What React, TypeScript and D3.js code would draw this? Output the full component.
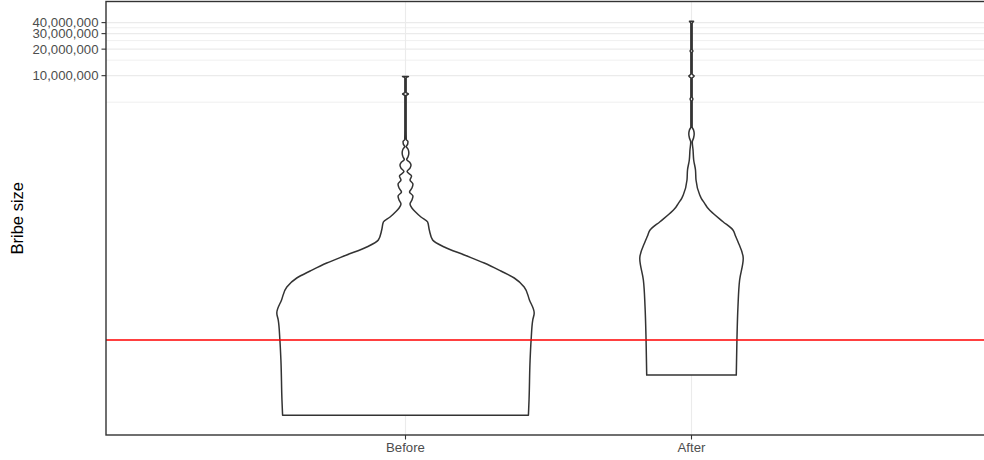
import React from 'react'
import * as d3 from 'd3'

// categories and axis breaks
const categories = ['Before', 'After']
const yBreaks = [10000000, 20000000, 30000000, 40000000]
const yMinorBreaks = [5000000, 15000000, 25000000, 35000000]
const referenceLine = 10000

// violin outlines: bribe size and relative density (1 = widest violin)
const beforeValues = [
  1400, 2100, 5900, 10000, 16900, 20300, 28500, 40000, 50600, 60700, 74800,
  92200, 113700, 136500, 177200, 218500, 248900, 283700, 314900, 349600,
  388000, 430900, 478300, 531100, 589300, 654300, 726400, 817300, 895400,
  968500, 1047000, 1118000, 1194000, 1325000, 1471000, 1570000, 1677000,
  1789000, 1886000, 2417000, 5292000, 5953000, 6190000, 6437000, 9402000,
  9777000,
]
const beforeDensity = [
  0.955, 0.96, 0.968, 0.976, 0.989, 1.0, 0.963, 0.922, 0.845, 0.741, 0.612,
  0.457, 0.301, 0.211, 0.185, 0.172, 0.12, 0.078, 0.05, 0.035, 0.05, 0.058,
  0.031, 0.05, 0.058, 0.035, 0.047, 0.012, 0.035, 0.043, 0.031, 0.009, 0.019,
  0.026, 0.019, 0.006, 0.017, 0.019, 0.006, 0.005, 0.005, 0.005, 0.023, 0.005,
  0.005, 0.023,
]
const afterValues = [
  4000, 10000, 23900, 48000, 84600, 130600, 151500, 177200, 220200, 274200,
  312500, 356100, 405700, 442300, 654300, 849900, 1104000, 1433000, 1766000,
  1961000, 2177000, 2417000, 2614000, 5156000, 5433000, 5724000, 9402000,
  9906000, 10440000, 18310000, 19040000, 19800000, 39000000, 41500000,
]
const afterDensity = [
  0.348, 0.353, 0.361, 0.374, 0.402, 0.361, 0.342, 0.322, 0.245, 0.167, 0.128,
  0.102, 0.076, 0.064, 0.035, 0.031, 0.017, 0.012, 0.006, 0.016, 0.021, 0.016,
  0.005, 0.005, 0.011, 0.005, 0.005, 0.021, 0.005, 0.005, 0.011, 0.005, 0.005,
  0.016,
]

const W = 984
const H = 460
const panel = { left: 106, top: 1.5, right: 992, bottom: 435 }
const font = '"Liberation Sans", Arial, Helvetica, sans-serif'

export default function App() {
  const violins = [
    { name: 'Before', values: beforeValues, density: beforeDensity },
    { name: 'After', values: afterValues, density: afterDensity },
  ]

  // log scale with 5% expansion in transformed space (like ggplot)
  const allValues = beforeValues.concat(afterValues)
  const lo = Math.log10(d3.min(allValues) as number)
  const hi = Math.log10(d3.max(allValues) as number)
  const pad = (hi - lo) * 0.05
  const y = d3
    .scaleLog()
    .domain([10 ** (lo - pad), 10 ** (hi + pad)])
    .range([panel.bottom, panel.top])

  const x = d3.scalePoint<string>().domain(categories).range([405.5, 691.5])
  const step = x(categories[1])! - x(categories[0])!
  const w = d3.scaleLinear().domain([0, 1]).range([0, step * 0.45])

  const fmt = d3.format(',')

  return (
    <svg
      width={W}
      height={H}
      style={{ position: 'absolute', left: 0, top: 0, background: '#fff' }}
      fontFamily={font}
    >
      <rect x={0} y={0} width={W} height={H} fill="#fff" />
      {/* grid */}
      {yMinorBreaks.map((v) => (
        <line
          key={'mn' + v}
          x1={panel.left}
          x2={panel.right}
          y1={y(v)}
          y2={y(v)}
          stroke="#ebebeb"
          strokeWidth={0.8}
        />
      ))}
      {yBreaks.map((v) => (
        <line
          key={'mj' + v}
          x1={panel.left}
          x2={panel.right}
          y1={y(v)}
          y2={y(v)}
          stroke="#ebebeb"
          strokeWidth={1.1}
        />
      ))}
      {categories.map((c) => (
        <line
          key={'vx' + c}
          x1={x(c)}
          x2={x(c)}
          y1={panel.top}
          y2={panel.bottom}
          stroke="#ebebeb"
          strokeWidth={1.1}
        />
      ))}

      {/* violins */}
      {violins.map((vl) => {
        const cx = x(vl.name)!
        const pts = vl.values.map((v, i) => ({ v, d: vl.density[i] }))
        const area = d3
          .area<{ v: number; d: number }>()
          .y((p) => y(p.v))
          .x0((p) => cx - w(p.d))
          .x1((p) => cx + w(p.d))
          .curve(d3.curveMonotoneY)
        return (
          <path
            key={vl.name}
            d={area(pts) || ''}
            fill="#fff"
            stroke="#333333"
            strokeWidth={1.5}
            strokeLinejoin="round"
          />
        )
      })}

      {/* reference line */}
      <line
        x1={panel.left}
        x2={panel.right}
        y1={y(referenceLine)}
        y2={y(referenceLine)}
        stroke="#ff0000"
        strokeWidth={1.6}
      />

      {/* panel border */}
      <rect
        x={panel.left}
        y={panel.top}
        width={panel.right - panel.left}
        height={panel.bottom - panel.top}
        fill="none"
        stroke="#333333"
        strokeWidth={1.4}
      />

      {/* y axis */}
      {yBreaks.map((v) => (
        <g key={'yt' + v}>
          <line
            x1={panel.left - 4.5}
            x2={panel.left}
            y1={y(v)}
            y2={y(v)}
            stroke="#333333"
            strokeWidth={1.1}
          />
          <text
            x={panel.left - 7.5}
            y={y(v)}
            dy="0.36em"
            textAnchor="end"
            fontSize={13.2}
            fill="#4d4d4d"
          >
            {fmt(v)}
          </text>
        </g>
      ))}

      {/* x axis */}
      {categories.map((c) => (
        <g key={'xt' + c}>
          <line
            x1={x(c)}
            x2={x(c)}
            y1={panel.bottom}
            y2={panel.bottom + 4.5}
            stroke="#333333"
            strokeWidth={1.1}
          />
          <text
            x={x(c)}
            y={panel.bottom + 17}
            textAnchor="middle"
            fontSize={13.2}
            fill="#4d4d4d"
          >
            {c}
          </text>
        </g>
      ))}

      <text
        transform={`translate(22.5,${(panel.top + panel.bottom) / 2}) rotate(-90)`}
        textAnchor="middle"
        fontSize={16.5}
        fill="#000"
      >
        Bribe size
      </text>
    </svg>
  )
}
